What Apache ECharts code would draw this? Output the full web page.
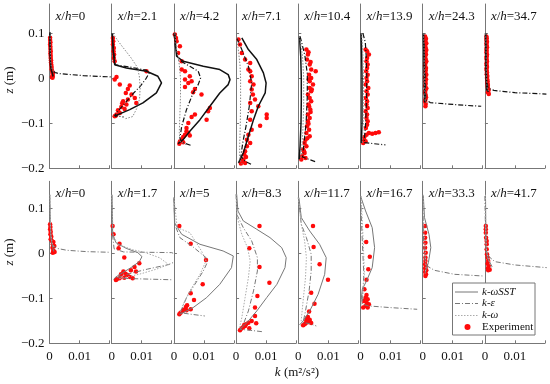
<!DOCTYPE html>
<html><head><meta charset="utf-8">
<script src="https://cdn.jsdelivr.net/npm/echarts@6/dist/echarts.min.js"></script>
<style>html,body{margin:0;padding:0;background:#fff}#c{width:550px;height:384px}</style>
</head><body><div id="c"></div>
<script>
// ---------- DATA: [k (m^2/s^2), z (m)] ----------
const topLabels = ['0','2.1','4.2','7.1','10.4','13.9','24.3','34.7'];
const bottomLabels = ['0','1.7','5','8.3','11.7','16.7','33.3','41.7'];
const yTicks = [-0.2,-0.1,0,0.1];
const xTicks = [0,0.01,0.02];
const xLabels = [0,0.01];

// Top row
const T0_sst = [[0.0001,0.103],[0.0002,0.06],[0.0003,0.03],[0.0006,0.018],[0.001,0.01],[0.0012,0.004]];
const T0_ke = [[0.0001,0.103],[0.0002,0.06],[0.0004,0.03],[0.0008,0.02],[0.0015,0.014],[0.003,0.0104],[0.0113,0.0059],[0.0205,0.003]];
const T0_kw = [[0.0002,0.103],[0.0003,0.06],[0.0005,0.03],[0.001,0.018],[0.002,0.012],[0.0025,0.008]];
const T0_exp = [[0.0002,0.09],[0.0002,0.085],[0.0003,0.08],[0.0002,0.075],[0.0003,0.07],[0.0003,0.065],[0.0004,0.06],[0.0003,0.055],[0.0004,0.05],[0.0004,0.045],[0.0005,0.04],[0.0005,0.035],[0.0006,0.03],[0.0007,0.025],[0.0007,0.02],[0.0009,0.015],[0.001,0.01],[0.0011,0.005],[0.001,0.001],[0.0008,0.003],[0.0012,0.012]];

const T21_sst = [[0.0002,0.1],[0.0005,0.06],[0.001,0.03],[0.0049,0.023],[0.0116,0.0156],[0.0154,0.0044],[0.0166,-0.0104],[0.0149,-0.0326],[0.0104,-0.0548],[0.006,-0.0696],[0.0021,-0.0807],[0.001,-0.0844]];
const T21_ke = [[0.0002,0.1],[0.0006,0.06],[0.0012,0.03],[0.006,0.025],[0.0115,0.018],[0.0125,0.012],[0.0115,0],[0.0095,-0.018],[0.007,-0.035],[0.0045,-0.055],[0.0022,-0.072],[0.001,-0.083],[0.004,-0.086]];
const T21_kw = [[0.0003,0.1],[0.003,0.075],[0.0065,0.045],[0.0085,0.025],[0.0092,0.005],[0.0095,-0.02],[0.0093,-0.045],[0.0085,-0.065],[0.007,-0.085],[0.0045,-0.09]];
const T21_exp = [[0.0004,0.0896],[0.0005,0.0822],[0.0004,0.0748],[0.0007,0.0674],[0.0006,0.06],[0.0008,0.0526],[0.0007,0.0452],[0.001,0.0378],[0.0116,0.0156],[0.0016,0.003],[0.001,-0.003],[0.0027,-0.0141],[0.006,-0.0163],[0.0054,-0.0237],[0.0047,-0.0326],[0.0066,-0.0363],[0.0077,-0.0437],[0.0054,-0.0474],[0.0038,-0.0511],[0.0049,-0.0585],[0.0032,-0.0637],[0.0043,-0.0681],[0.0021,-0.0711],[0.0027,-0.077],[0.0016,-0.0807],[0.001,-0.0844],[0.0082,-0.0548],[0.0035,-0.0555],[0.0013,-0.083]];

const T42_sst = [[0.0003,0.1007],[0.0006,0.07],[0.0009,0.0489],[0.0031,0.0378],[0.0098,0.0267],[0.0153,0.0193],[0.0181,0.0081],[0.0187,-0.003],[0.0181,-0.0141],[0.0153,-0.0326],[0.012,-0.0622],[0.0087,-0.0919],[0.0053,-0.1178],[0.0031,-0.1363],[0.0014,-0.1452]];
const T42_ke = [[0,0.1],[0.0005,0.07],[0.0014,0.0415],[0.0053,0.0267],[0.0081,0.0156],[0.0089,0.0007],[0.0081,-0.0141],[0.0064,-0.0326],[0.0042,-0.0696],[0.0026,-0.1067],[0.002,-0.1326],[0.0026,-0.1422],[0.0059,-0.1496]];
const T42_kw = [[0.0003,0.1],[0.001,0.06],[0.0018,0.03],[0.0022,0],[0.0022,-0.04],[0.002,-0.08],[0.0018,-0.12],[0.002,-0.14],[0.004,-0.147]];
const T42_exp = [[0.0003,0.097],[0.0007,0.0896],[0.0009,0.0822],[0.002,0.0711],[0.0014,0.0563],[0.0026,0.0378],[0.0026,0.0193],[0.0037,0.0156],[0.0053,0.0044],[0.0037,-0.003],[0.0059,-0.0067],[0.0048,-0.0104],[0.0037,-0.0193],[0.007,-0.0237],[0.0064,-0.0311],[0.0092,-0.0363],[0.012,-0.0659],[0.0114,-0.0733],[0.007,-0.0807],[0.0059,-0.0859],[0.0109,-0.0919],[0.0048,-0.0993],[0.0042,-0.1104],[0.0042,-0.1178],[0.0048,-0.1215],[0.0037,-0.1252],[0.0053,-0.1274],[0.0031,-0.1304],[0.0026,-0.1363],[0.002,-0.1407],[0.0018,-0.1452],[0.0031,-0.1422]];

const T71_sst = [[0.0019,0.0896],[0.0041,0.0637],[0.0069,0.0415],[0.0091,0.0119],[0.01,-0.0104],[0.0097,-0.0326],[0.0074,-0.0622],[0.0058,-0.0919],[0.0041,-0.1289],[0.0024,-0.1659],[0.0008,-0.1881]];
const T71_ke = [[0.0002,0.0896],[0.0019,0.0637],[0.0041,0.0267],[0.0052,-0.0104],[0.0044,-0.0622],[0.0033,-0.1067],[0.0022,-0.1437],[0.0016,-0.1733],[0.003,-0.1844],[0.0052,-0.1919]];
const T71_kw = [[0.0002,0.09],[0.0008,0.06],[0.0013,0.03],[0.0015,0],[0.0015,-0.05],[0.0014,-0.1],[0.0012,-0.15],[0.0012,-0.18],[0.002,-0.19]];
const T71_exp = [[0.0008,0.0859],[0.0013,0.0748],[0.0019,0.0563],[0.003,0.0415],[0.0047,0.0341],[0.0041,0.0193],[0.0047,0.0156],[0.0052,0.0044],[0.0047,-0.0067],[0.0058,-0.0141],[0.0052,-0.0252],[0.0056,-0.0363],[0.0063,-0.0474],[0.0047,-0.0548],[0.0074,-0.0622],[0.0052,-0.0733],[0.0102,-0.0807],[0.0102,-0.0881],[0.0047,-0.0919],[0.008,-0.1052],[0.0052,-0.1141],[0.0041,-0.1252],[0.0036,-0.1363],[0.0047,-0.1437],[0.0036,-0.1511],[0.003,-0.1622],[0.0027,-0.1696],[0.0033,-0.1748],[0.0024,-0.1807],[0.0019,-0.1844],[0.003,-0.1881],[0.0016,-0.1896]];

const T104_sst = [[0.0004,0.093],[0.0008,0.05],[0.001,0],[0.001,-0.05],[0.0009,-0.1],[0.0006,-0.15],[0.0003,-0.18]];
const T104_ke = [[0.0006,0.093],[0.0022,0.05],[0.003,0.01],[0.003,-0.04],[0.0026,-0.1],[0.0018,-0.15],[0.0014,-0.175],[0.0035,-0.18],[0.006,-0.186]];
const T104_kw = [[0.0004,0.093],[0.0014,0.05],[0.0018,0],[0.0018,-0.06],[0.0015,-0.12],[0.001,-0.17],[0.0008,-0.18]];
const T104_exp = [[0.0027,0.0637],[0.0034,0.058],[0.0032,0.0526],[0.0029,0.0415],[0.0041,0.036],[0.0038,0.0304],[0.0043,0.0193],[0.0058,0.0156],[0.0036,0.0081],[0.0043,0.0007],[0.0035,-0.002],[0.0038,-0.0067],[0.0049,-0.0141],[0.0038,-0.0215],[0.0045,-0.025],[0.0043,-0.0289],[0.0032,-0.0363],[0.0038,-0.0437],[0.0043,-0.0511],[0.0034,-0.058],[0.0036,-0.0622],[0.004,-0.0696],[0.0041,-0.075],[0.0032,-0.0807],[0.0038,-0.0881],[0.0032,-0.0956],[0.0034,-0.101],[0.0029,-0.1067],[0.0036,-0.1141],[0.0027,-0.1215],[0.0038,-0.1289],[0.003,-0.133],[0.0024,-0.1363],[0.0021,-0.1437],[0.0027,-0.1511],[0.0016,-0.1585],[0.0019,-0.162],[0.0021,-0.1659],[0.0013,-0.1733],[0.0024,-0.177],[0.001,-0.1807]];

const T139_sst = [[0.0002,0.1],[0.0004,0.05],[0.0005,0],[0.0005,-0.1],[0.0003,-0.144]];
const T139_ke = [[0.0008,0.1],[0.0016,0.08],[0.0019,0.05],[0.0021,0],[0.002,-0.05],[0.0017,-0.1],[0.0012,-0.143],[0.004,-0.145],[0.0083,-0.148]];
const T139_kw = [[0.0004,0.1],[0.0008,0.05],[0.001,0],[0.0009,-0.1],[0.0006,-0.144]];
const T139_exp = [[0.0017,0.0637],[0.0022,0.06],[0.0028,0.0526],[0.0022,0.0452],[0.002,0.0378],[0.0024,0.0304],[0.0022,0.023],[0.0019,0.0156],[0.0024,0.0081],[0.002,0.0007],[0.0022,-0.0067],[0.0017,-0.0141],[0.0026,-0.0215],[0.002,-0.0289],[0.0024,-0.0363],[0.0018,-0.0437],[0.0022,-0.0511],[0.002,-0.0585],[0.0024,-0.0659],[0.0017,-0.0733],[0.0022,-0.0807],[0.002,-0.0881],[0.0024,-0.0956],[0.0022,-0.103],[0.0018,-0.1104],[0.0028,-0.1215],[0.0039,-0.123],[0.005,-0.1215],[0.0061,-0.12],[0.002,-0.1252],[0.0013,-0.1304],[0.0011,-0.1363],[0.0017,-0.14],[0.0009,-0.1437]];

const T243_sst = [[0.0002,0.1],[0.0004,0.05],[0.0005,0],[0.0006,-0.05],[0.0008,-0.054]];
const T243_ke = [[0.0003,0.1],[0.0006,0.05],[0.0008,0],[0.001,-0.048],[0.0025,-0.054],[0.008,-0.057],[0.014,-0.06],[0.0195,-0.0622]];
const T243_kw = [[0.0003,0.1],[0.0005,0.05],[0.0006,0],[0.0008,-0.05],[0.0015,-0.055]];
const T243_exp = [[0.0008,0.093],[0.0011,0.088],[0.0009,0.083],[0.0012,0.078],[0.0008,0.073],[0.001,0.068],[0.0012,0.063],[0.0009,0.058],[0.0011,0.053],[0.0008,0.048],[0.001,0.043],[0.0012,0.038],[0.0009,0.033],[0.0008,0.028],[0.0011,0.023],[0.001,0.018],[0.0009,0.013],[0.0012,0.008],[0.0008,0.003],[0.0011,-0.002],[0.0009,-0.007],[0.001,-0.012],[0.0008,-0.017],[0.0012,-0.022],[0.0009,-0.027],[0.0008,-0.032],[0.001,-0.037],[0.0011,-0.042],[0.0009,-0.047],[0.0008,-0.052],[0.001,-0.057],[0.0009,-0.062]];

const T347_sst = [[0.0002,0.1],[0.0003,0.05],[0.0004,0],[0.0006,-0.025],[0.0012,-0.03]];
const T347_ke = [[0.0003,0.1],[0.0004,0.05],[0.0006,0],[0.001,-0.022],[0.003,-0.027],[0.01,-0.032],[0.0205,-0.035]];
const T347_kw = [[0.0003,0.1],[0.0004,0.05],[0.0005,0],[0.0008,-0.025],[0.0015,-0.03]];
const T347_exp = [[0.0005,0.093],[0.0006,0.089],[0.0005,0.085],[0.0007,0.081],[0.0005,0.077],[0.0006,0.073],[0.0007,0.069],[0.0005,0.065],[0.0006,0.061],[0.0005,0.057],[0.0007,0.053],[0.0006,0.049],[0.0005,0.045],[0.0006,0.041],[0.0007,0.037],[0.0005,0.033],[0.0006,0.029],[0.0007,0.025],[0.0005,0.021],[0.0006,0.017],[0.0007,0.013],[0.0006,0.009],[0.0008,0.005],[0.0007,0.001],[0.0008,-0.003],[0.0009,-0.007],[0.0008,-0.011],[0.001,-0.015],[0.0009,-0.019],[0.0011,-0.023],[0.0012,-0.027],[0.001,-0.031],[0.0013,-0.035]];

// Bottom row
const B0_sst = [[0.0001,0.13],[0.0002,0.08],[0.0004,0.04],[0.0008,0.02],[0.0012,0.01],[0.0014,0.004]];
const B0_ke = [[0,0.13],[0.0002,0.08],[0.0004,0.04],[0.0008,0.02],[0.0024,0.0111],[0.0058,0.0067],[0.0124,0.0037],[0.0205,0.0022]];
const B0_kw = [[0.0002,0.13],[0.0003,0.08],[0.0005,0.04],[0.001,0.02],[0.0018,0.01]];
const B0_exp = [[0.0002,0.0644],[0.0003,0.0585],[0.0002,0.0533],[0.0004,0.0481],[0.0003,0.0422],[0.0006,0.037],[0.0004,0.0311],[0.0008,0.0274],[0.0013,0.0252],[0.0011,0.02],[0.0016,0.0163],[0.001,0.0126],[0.0013,0.0067],[0.0011,0.0015],[0.0017,0.003]];

const B17_sst = [[0.0001,0.13],[0.0003,0.0422],[0.0014,0.0237],[0.0048,0.0111],[0.0087,0.0015],[0.0101,-0.0074],[0.0092,-0.0185],[0.0064,-0.0319],[0.0037,-0.043],[0.0014,-0.0526],[0.0006,-0.0578]];
const B17_ke = [[0,0.13],[0.0003,0.04],[0.0008,0.01],[0.004,0.003],[0.02,0.0015],[0.024,-0.01],[0.019,-0.025],[0.012,-0.035],[0.006,-0.045],[0.002,-0.054],[0.005,-0.056],[0.021,-0.059]];
const B17_kw = [[0,0.13],[0.0005,0.04],[0.002,0.02],[0.007,0.008],[0.011,0.002],[0.016,-0.01],[0.019,-0.025],[0.015,-0.035],[0.01,-0.045],[0.005,-0.053],[0.002,-0.057]];
const B17_exp = [[0.0003,0.0607],[0.0006,0.0422],[0.0026,0.0215],[0.0023,0.0111],[0.0042,-0.0096],[0.0092,-0.0222],[0.0076,-0.0304],[0.0064,-0.0378],[0.0081,-0.0407],[0.0039,-0.0407],[0.0046,-0.0452],[0.0053,-0.0481],[0.0031,-0.0467],[0.0061,-0.0526],[0.007,-0.0556],[0.0042,-0.0541],[0.0026,-0.0556],[0.0017,-0.0578],[0.0014,-0.0593]];

const B5_sst = [[0,0.1237],[0.0002,0.0681],[0.0026,0.0422],[0.0087,0.02],[0.0164,0.0052],[0.0198,-0.0059],[0.0192,-0.0319],[0.0153,-0.0689],[0.0109,-0.0985],[0.0064,-0.1207],[0.0031,-0.1319],[0.0018,-0.1356]];
const B5_ke = [[0,0.1237],[0.0003,0.0644],[0.002,0.0348],[0.0064,0.0141],[0.0107,-0.0096],[0.0111,-0.0207],[0.0098,-0.0393],[0.007,-0.0689],[0.0042,-0.0985],[0.0026,-0.1244],[0.002,-0.1319],[0.0059,-0.1356],[0.0103,-0.1393]];
const B5_kw = [[0,0.1237],[0.0011,0.057],[0.0053,0.0459],[0.0092,0.0052],[0.0107,-0.017],[0.0087,-0.0467],[0.0053,-0.0837],[0.0031,-0.1133],[0.002,-0.1319]];
const B5_exp = [[0.0018,0.0607],[0.0056,0.0215],[0.0107,-0.0148],[0.0096,-0.0689],[0.0056,-0.0889],[0.0067,-0.1037],[0.0044,-0.1156],[0.004,-0.1193],[0.0033,-0.1252],[0.0056,-0.1244],[0.0029,-0.1281],[0.0022,-0.1319],[0.0018,-0.1356],[0.0042,-0.1267]];

const B83_sst = [[0.0002,0.1311],[0.0006,0.0941],[0.0024,0.0719],[0.0069,0.0533],[0.0113,0.0348],[0.0152,0.0126],[0.0167,-0.0096],[0.0163,-0.0319],[0.0136,-0.0689],[0.0102,-0.0985],[0.0069,-0.1281],[0.0036,-0.1541],[0.0013,-0.1689]];
const B83_ke = [[0,0.1311],[0.0002,0.0867],[0.0024,0.057],[0.0052,0.0274],[0.0071,-0.0096],[0.0071,-0.0393],[0.0058,-0.0837],[0.0041,-0.1281],[0.0024,-0.1578],[0.0013,-0.1689],[0.0047,-0.1711],[0.0086,-0.1741]];
const B83_kw = [[0,0.1311],[0.0004,0.0793],[0.0019,0.0422],[0.0038,0.0126],[0.0047,-0.017],[0.0041,-0.0541],[0.003,-0.0985],[0.0019,-0.143],[0.0011,-0.1667]];
const B83_exp = [[0.0078,0.0607],[0.0044,0.0111],[0.0078,-0.0304],[0.0111,-0.0652],[0.0071,-0.0948],[0.0063,-0.1207],[0.0063,-0.1393],[0.0067,-0.1556],[0.0052,-0.1504],[0.0041,-0.1541],[0.0033,-0.1578],[0.003,-0.1615],[0.0024,-0.1637],[0.0019,-0.1667],[0.0013,-0.1711],[0.0044,-0.1667],[0.0027,-0.1593]];

const B117_sst = [[0.0002,0.1237],[0.001,0.0793],[0.0038,0.0496],[0.0071,0.02],[0.0093,-0.0096],[0.0088,-0.0467],[0.0066,-0.0911],[0.0038,-0.1281],[0.0016,-0.1504],[0.0004,-0.1593]];
const B117_ke = [[0,0.1237],[0.001,0.0644],[0.0027,0.0348],[0.0043,-0.0022],[0.0043,-0.0393],[0.0036,-0.0837],[0.0024,-0.1281],[0.0016,-0.1541],[0.0038,-0.1563],[0.006,-0.1615]];
const B117_kw = [[0,0.1237],[0.001,0.0644],[0.0021,0.0274],[0.0027,-0.0096],[0.0024,-0.0541],[0.0016,-0.1059],[0.0009,-0.1541]];
const B117_exp = [[0.0049,0.0607],[0.0051,0.0141],[0.0071,-0.0244],[0.0099,-0.0585],[0.0043,-0.0874],[0.0054,-0.1119],[0.0036,-0.1296],[0.0032,-0.1415],[0.0029,-0.1444],[0.0038,-0.1474],[0.0027,-0.1489],[0.0038,-0.1519],[0.0031,-0.1533],[0.0024,-0.1556],[0.0016,-0.16],[0.0021,-0.1578],[0.0043,-0.1548]];

const B167_sst = [[0,0.1274],[0.0017,0.0941],[0.0039,0.057],[0.0047,0.0126],[0.0039,-0.0319],[0.002,-0.0615],[0.0006,-0.08],[0,-0.117]];
const B167_ke = [[0,0.1274],[0.0006,0.0274],[0.0011,-0.0467],[0.0006,-0.1133],[0.0028,-0.117],[0.01,-0.1207],[0.0189,-0.1244]];
const B167_kw = [[0.0002,0.1274],[0.0009,0.0274],[0.0013,-0.0467],[0.0004,-0.1133]];
const B167_exp = [[0.0022,0.0607],[0.0019,0.0252],[0.0031,-0.0074],[0.0026,-0.0356],[0.002,-0.0585],[0.0013,-0.08],[0.002,-0.0926],[0.0017,-0.0985],[0.0024,-0.1022],[0.0011,-0.1059],[0.002,-0.1096],[0.0028,-0.1133],[0.0017,-0.117],[0.0009,-0.1207],[0.0024,-0.1207]];

const B333_sst = [[0.0002,0.1274],[0.0006,0.0793],[0.0021,0.0422],[0.0027,0.0126],[0.0019,-0.0207],[0.0008,-0.043]];
const B333_ke = [[0,0.1274],[0.0003,0.0274],[0.0009,-0.0259],[0.0039,-0.0378],[0.0106,-0.0467],[0.02,-0.0504]];
const B333_kw = [[0.0002,0.13],[0.0004,0.05],[0.0007,0.0274],[0.0011,-0.03],[0.0008,-0.045]];
const B333_exp = [[0.0008,0.0607],[0.0008,0.0459],[0.0008,0.0348],[0.0009,0.0237],[0.0008,0.0126],[0.001,0.0015],[0.0009,-0.0096],[0.0009,-0.017],[0.0008,-0.0244],[0.0011,-0.0281],[0.0008,-0.0333],[0.0012,-0.0378],[0.0008,-0.0415],[0.0011,-0.0467],[0.0009,-0.0504]];

const B417_sst = [[0.0002,0.13],[0.0003,0.05],[0.0004,0.01],[0.0008,-0.008],[0.0015,-0.018],[0.0024,-0.03]];
const B417_ke = [[0,0.1274],[0.0003,0.0126],[0.0011,-0.0059],[0.0033,-0.0185],[0.01,-0.0259],[0.0206,-0.0319]];
const B417_kw = [[0.0002,0.13],[0.0003,0.05],[0.0005,0.01],[0.001,-0.01],[0.0022,-0.033]];
const B417_exp = [[0.0003,0.0607],[0.0003,0.0533],[0.0003,0.0459],[0.0004,0.0348],[0.0006,0.0274],[0.0006,0.02],[0.0006,0.0089],[0.0007,-0.0022],[0.0009,-0.0096],[0.0011,-0.017],[0.0009,-0.023],[0.0013,-0.0281],[0.001,-0.0333],[0.0016,-0.0363],[0.0011,-0.0378]];

const topSst = [T0_sst,T21_sst,T42_sst,T71_sst,T104_sst,T139_sst,T243_sst,T347_sst];
const topKe  = [T0_ke,T21_ke,T42_ke,T71_ke,T104_ke,T139_ke,T243_ke,T347_ke];
const topKw  = [T0_kw,T21_kw,T42_kw,T71_kw,T104_kw,T139_kw,T243_kw,T347_kw];
const topExp = [T0_exp,T21_exp,T42_exp,T71_exp,T104_exp,T139_exp,T243_exp,T347_exp];
const botSst = [B0_sst,B17_sst,B5_sst,B83_sst,B117_sst,B167_sst,B333_sst,B417_sst];
const botKe  = [B0_ke,B17_ke,B5_ke,B83_ke,B117_ke,B167_ke,B333_ke,B417_ke];
const botKw  = [B0_kw,B17_kw,B5_kw,B83_kw,B117_kw,B167_kw,B333_kw,B417_kw];
const botExp = [B0_exp,B17_exp,B5_exp,B83_exp,B117_exp,B167_exp,B333_exp,B417_exp];

// ---------- LAYOUT ----------
const FONT = '"Liberation Serif","Times New Roman",serif';
const colLeft = i => 49.5 + i * 62.2;
const rows = [
  {top: 4, height: 164.3, ymax: 0.165, labels: topLabels, sst: topSst, ke: topKe, kw: topKw, exp: topExp,
   sstStyle:{color:'#111',width:1.5,type:'solid'}, keStyle:{color:'#111',width:1.2,type:[5,2,1,2]}, kwStyle:{color:'#888',width:1,type:[1.5,1.5]}, xlab:false, titleY: 18},
  {top: 181.3, height: 162, ymax: 0.16, labels: bottomLabels, sst: botSst, ke: botKe, kw: botKw, exp: botExp,
   sstStyle:{color:'#777',width:1,type:'solid'}, keStyle:{color:'#777',width:1,type:[5,2,1,2]}, kwStyle:{color:'#aaa',width:1,type:[1.5,1.5]}, xlab:true, titleY: 195}
];

const grid = [], xAxis = [], yAxis = [], series = [], graphic = [];
const fmtY = v => { const a = Math.round(Math.abs(v)*10)/10; return (v < -1e-9 ? '\u2212' : '') + a; };
let gi = 0;
rows.forEach((r) => {
  for (let c = 0; c < 8; c++) {
    grid.push({left: colLeft(c), top: r.top, width: 60, height: r.height});
    xAxis.push({gridIndex: gi, type: 'value', min: 0, max: 0.02,
      axisLine: {show: true, onZero: false, lineStyle: {color: '#777', width: 1}},
      axisTick: {show: true, inside: true, length: 3, customValues: xTicks, lineStyle: {color: '#777'}},
      axisLabel: {show: r.xlab, customValues: xLabels, margin: 7, fontFamily: FONT, fontSize: 13, color: '#111',
        formatter: v => (v === 0 ? '0' : '0.01')},
      splitLine: {show: false}});
    yAxis.push({gridIndex: gi, type: 'value', min: -0.2, max: r.ymax,
      axisLine: {show: true, onZero: false, lineStyle: {color: '#777', width: 1}},
      axisTick: {show: true, inside: true, length: 3, customValues: yTicks, lineStyle: {color: '#777'}},
      axisLabel: {show: c === 0, customValues: yTicks, margin: 5, fontFamily: FONT, fontSize: 13, color: '#111', formatter: fmtY},
      splitLine: {show: false}});
    const base = {xAxisIndex: gi, yAxisIndex: gi, silent: true, animation: false};
    series.push(Object.assign({type: 'line', name: 'k-ωSST', data: r.sst[c], symbol: 'none', lineStyle: r.sstStyle, clip: true}, base));
    series.push(Object.assign({type: 'line', name: 'k-ε', data: r.ke[c], symbol: 'none', lineStyle: r.keStyle, clip: true}, base));
    series.push(Object.assign({type: 'line', name: 'k-ω', data: r.kw[c], symbol: 'none', lineStyle: r.kwStyle, clip: true}, base));
    series.push(Object.assign({type: 'scatter', name: 'Experiment', data: r.exp[c], symbol: 'circle', symbolSize: 4.5, itemStyle: {color: '#ff0a0a', opacity: 1}, clip: true}, base));
    graphic.push({type: 'text', left: colLeft(c) + 6, top: r.titleY - 8, z: 10,
      style: {text: '{i|x}/{i|h}=' + r.labels[c], fontFamily: FONT, fontSize: 13, fill: '#111',
        rich: {i: {fontStyle: 'italic', fontFamily: FONT, fontSize: 13, fill: '#111'}}}});
    gi++;
  }
});

// axis names
graphic.push({type: 'text', x: 10, y: 80, rotation: Math.PI / 2,
  style: {text: '{i|z} (m)', fontFamily: FONT, fontSize: 13, fill: '#111', align: 'center', verticalAlign: 'middle', textAlign: 'center', textVerticalAlign: 'middle',
    rich: {i: {fontStyle: 'italic', fontFamily: FONT, fontSize: 13}}}});
graphic.push({type: 'text', x: 10, y: 252, rotation: Math.PI / 2,
  style: {text: '{i|z} (m)', fontFamily: FONT, fontSize: 13, fill: '#111', align: 'center', verticalAlign: 'middle', textAlign: 'center', textVerticalAlign: 'middle',
    rich: {i: {fontStyle: 'italic', fontFamily: FONT, fontSize: 13}}}});
graphic.push({type: 'text', x: 297, y: 373,
  style: {text: '{i|k} (m²/s²)', fontFamily: FONT, fontSize: 13, fill: '#111', align: 'center', verticalAlign: 'middle', textAlign: 'center', textVerticalAlign: 'middle',
    rich: {i: {fontStyle: 'italic', fontFamily: FONT, fontSize: 13}}}});

// legend box
const LX = 452.5, LY = 283, LW = 82.5, LH = 52;
graphic.push({type: 'rect', shape: {x: LX, y: LY, width: LW, height: LH}, style: {fill: '#fff', stroke: '#777', lineWidth: 1}, z: 20});
const legRows = [
  {y: 292, text: 'k-ωSST', italic: true, ls: {stroke: '#777', lineWidth: 1}},
  {y: 303.5, text: 'k-ε', italic: true, ls: {stroke: '#777', lineWidth: 1, lineDash: [5,2,1,2]}},
  {y: 315.5, text: 'k-ω', italic: true, ls: {stroke: '#aaa', lineWidth: 1, lineDash: [1.5,1.5]}},
  {y: 327, text: 'Experiment', italic: false}
];
legRows.forEach(l => {
  if (l.ls) {
    graphic.push({type: 'line', z: 21, shape: {x1: 455, y1: l.y, x2: 478, y2: l.y}, style: l.ls});
  } else {
    graphic.push({type: 'circle', z: 21, shape: {cx: 467.5, cy: l.y, r: 3}, style: {fill: '#ff0a0a'}});
  }
  graphic.push({type: 'text', z: 21, x: 482, y: l.y,
    style: {text: l.text, fontFamily: FONT, fontSize: 11, fontStyle: l.italic ? 'italic' : 'normal', fill: '#111',
      verticalAlign: 'middle', textVerticalAlign: 'middle'}});
});

const chart = echarts.init(document.getElementById('c'), null, {renderer: 'canvas'});
chart.setOption({animation: false, grid, xAxis, yAxis, series, graphic});
</script></body></html>
